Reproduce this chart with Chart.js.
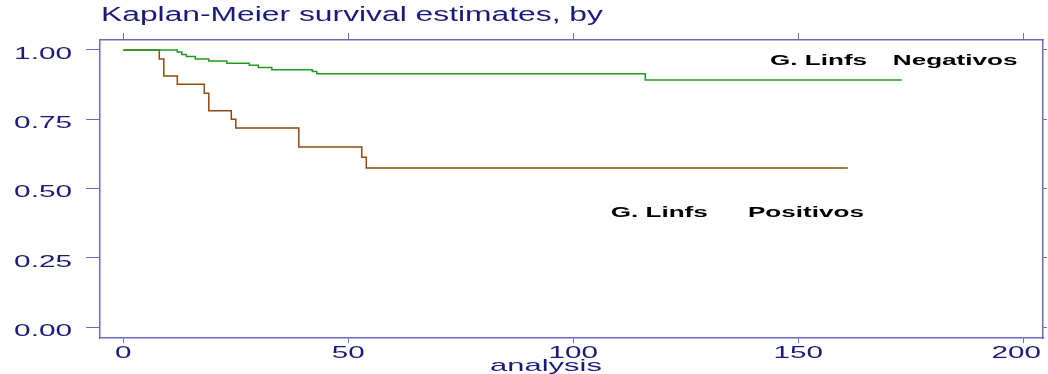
<!DOCTYPE html>
<html>
<head>
<meta charset="utf-8">
<script src="https://cdn.jsdelivr.net/npm/chart.js@4"></script>
<style>
  html, body { margin: 0; padding: 0; background: #fff; }
  #wrap { width: 1048px; height: 374px; }
</style>
</head>
<body>
<div id="wrap"><canvas id="kmChart"></canvas></div>
<script>
// Kaplan-Meier survival data (time, survival)
const negTimes = [0, 12, 13, 14, 16, 19, 23, 28, 30, 33, 42, 43, 116, 173];
const negSurv  = [1, 0.993, 0.984, 0.976, 0.967, 0.960, 0.952, 0.945, 0.937, 0.929, 0.922, 0.914, 0.892, 0.892];
const posTimes = [0, 8, 9, 12, 18, 19, 24, 25, 39, 53, 54, 161];
const posSurv  = [1, 0.967, 0.906, 0.876, 0.844, 0.781, 0.750, 0.718, 0.650, 0.613, 0.574, 0.574];

const xTicks = [0, 50, 100, 150, 200];
const yTicks = [0, 0.25, 0.5, 0.75, 1];
const yTickLabels = ['0.00', '0.25', '0.50', '0.75', '1.00'];

const titleText = 'Kaplan-Meier survival estimates, by';
const xTitle = 'analysis';
const groupPrefix = 'G. Linfs';
const groupNames = ['Negativos', 'Positivos'];

const AXIS_COLOR = '#6b6bbd';
const TEXT_COLOR = '#1a1a7a';

function toPoints(times, surv) {
  return times.map((t, i) => ({ x: t, y: surv[i] }));
}

// text in the original is horizontally stretched, so draw it scaled
function wideText(ctx, text, x, y, font, sx, align, color) {
  ctx.save();
  ctx.font = font;
  ctx.fillStyle = color;
  ctx.textAlign = align;
  ctx.textBaseline = 'alphabetic';
  ctx.translate(x, y);
  ctx.scale(sx, 1);
  ctx.fillText(text, 0, 0);
  ctx.restore();
}

const labelsPlugin = {
  id: 'stataLabels',
  afterDraw(chart) {
    const ctx = chart.ctx;
    const xs = chart.scales.x;
    const ys = chart.scales.y;

    // title
    wideText(ctx, titleText, 101, 21, '20px "Liberation Sans", Arial, sans-serif', 1.59, 'left', TEXT_COLOR);

    // y tick labels
    yTicks.forEach((v, i) => {
      wideText(ctx, yTickLabels[i], 72, ys.getPixelForValue(v) + 9, '16px "Liberation Sans", Arial, sans-serif', 1.86, 'right', TEXT_COLOR);
    });

    // x tick labels
    xTicks.forEach(v => {
      let px = xs.getPixelForValue(v);
      if (v === 200) px -= 7;
      wideText(ctx, String(v), px, 358, '16px "Liberation Sans", Arial, sans-serif', 1.85, 'center', TEXT_COLOR);
    });

    // x axis title
    wideText(ctx, xTitle, 546, 371, '17px "Liberation Sans", Arial, sans-serif', 1.82, 'center', TEXT_COLOR);

    // group labels
    const bold = 'bold 14.5px "Liberation Sans", Arial, sans-serif';
    wideText(ctx, groupPrefix, xs.getPixelForValue(143.7), ys.getPixelForValue(0.946), bold, 1.8, 'left', '#000');
    wideText(ctx, groupNames[0], xs.getPixelForValue(171), ys.getPixelForValue(0.946), bold, 1.8, 'left', '#000');
    wideText(ctx, groupPrefix, xs.getPixelForValue(108.3), ys.getPixelForValue(0.397), bold, 1.8, 'left', '#000');
    wideText(ctx, groupNames[1], xs.getPixelForValue(138.8), ys.getPixelForValue(0.397), bold, 1.8, 'left', '#000');
  }
};

function setTicks(values) {
  return scale => { scale.ticks = values.map(v => ({ value: v })); };
}

function axisOpts(position, tickLength, min, max, values, extra) {
  return Object.assign({
    type: 'linear',
    position: position,
    min: min,
    max: max,
    afterBuildTicks: setTicks(values),
    ticks: { display: false },
    grid: { display: true, drawOnChartArea: false, drawTicks: true, tickLength: tickLength, color: AXIS_COLOR, lineWidth: 1 },
    border: { display: true, color: AXIS_COLOR, width: 1.5 }
  }, extra || {});
}

new Chart(document.getElementById('kmChart'), {
  type: 'line',
  data: {
    datasets: [
      {
        label: groupNames[0],
        data: toPoints(negTimes, negSurv),
        borderColor: '#229922',
        borderWidth: 1.5,
        stepped: true,
        pointRadius: 0,
        fill: false
      },
      {
        label: groupNames[1],
        data: toPoints(posTimes, posSurv),
        borderColor: '#8b4a13',
        borderWidth: 1.5,
        stepped: true,
        pointRadius: 0,
        fill: false
      }
    ]
  },
  options: {
    responsive: true,
    maintainAspectRatio: false,
    animation: false,
    layout: { padding: { left: 86, right: 1, top: 33, bottom: 31 } },
    plugins: {
      legend: { display: false },
      title: { display: false },
      tooltip: { enabled: false }
    },
    scales: {
      x: axisOpts('bottom', 5, -5.18, 204.38, xTicks),
      x2: axisOpts('top', 7, -5.18, 204.38, xTicks),
      y: axisOpts('left', 14, -0.0397, 1.036, yTicks),
      y2: axisOpts('right', 4, -0.0397, 1.036, yTicks)
    }
  },
  plugins: [labelsPlugin]
});
</script>
</body>
</html>
